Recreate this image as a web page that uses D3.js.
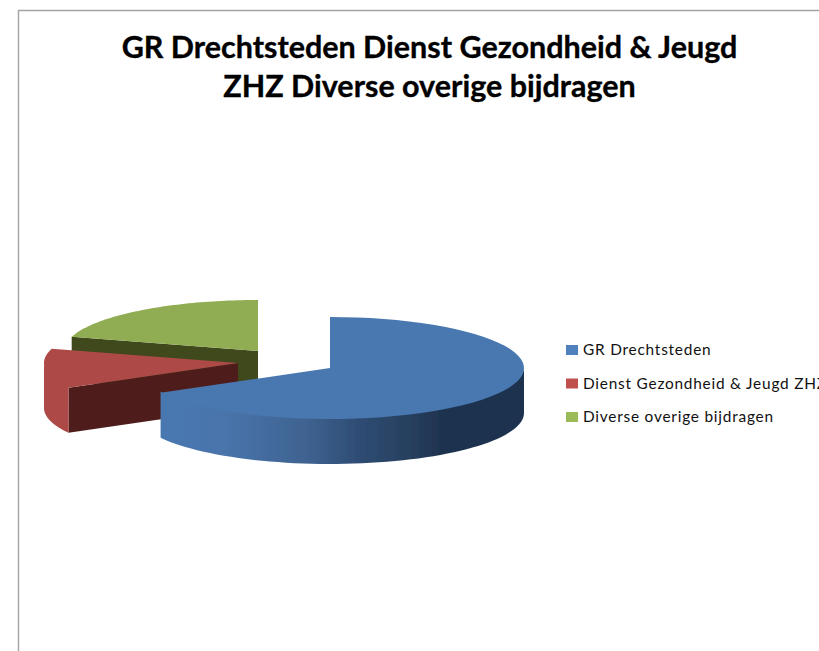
<!DOCTYPE html>
<html><head><meta charset="utf-8">
<script src="https://cdn.jsdelivr.net/npm/d3@7/dist/d3.min.js"></script>
<style>html,body{margin:0;padding:0;background:#fff;overflow:hidden}svg{display:block}</style>
</head><body><svg id="c" width="819" height="651"></svg>
<script>
const titleLines = ["GR Drechtsteden Dienst Gezondheid & Jeugd", "ZHZ Diverse overige bijdragen"];
const categories = ["GR Drechtsteden", "Dienst Gezondheid & Jeugd ZHZ", "Diverse overige bijdragen"];
const values = [66.9, 12.6, 20.5];
const legendColors = ["#4f81bd", "#c0504d", "#9bbb59"];
const topColors = ["#4978b1", "#ad4a46", "#91ad53"];
const wallColors = ["#4978b1", "#ad4a46", "#91ad53"];
const radialColors = ["#1f3350", "#4f1f1c", "#3f4a1e"];

const svg = d3.select("#c");
const rx = 194, ry = 51, depth = 45;
const centers = [[330, 368], [238, 363], [258, 351]];

// frame
svg.append("path").attr("d", "M18.5,651V10.5H819").attr("fill", "none").attr("stroke", "#a3a3a3").attr("stroke-width", 1.4);

// title
svg.append("g").selectAll("text").data(titleLines).join("text")
  .attr("x", 429.5).attr("y", (d, i) => 58 + i * 39)
  .attr("text-anchor", "middle")
  .attr("font-family", "Lato, 'Open Sans', sans-serif")
  .attr("font-weight", 700).attr("font-size", 30.5)
  .attr("stroke", "#000").attr("stroke-width", 0.35).attr("fill", "#000").text(d => d);

const pie = d3.pie().sort(null).value(d => d)(values);
const defs = svg.append("defs");
defs.append("filter").attr("id", "soft").append("feGaussianBlur").attr("stdDeviation", 0.5);
const grad = defs.append("linearGradient").attr("id", "blueWall")
  .attr("gradientUnits", "userSpaceOnUse").attr("x1", 160).attr("x2", 524).attr("y1", 0).attr("y2", 0);
[[0, "#4978b1"], [0.18, "#4874ab"], [0.40, "#3f6391"], [0.54, "#2f4d75"], [0.68, "#27405f"], [0.77, "#1f3350"], [1, "#1f3350"]]
  .forEach(s => grad.append("stop").attr("offset", s[0]).attr("stop-color", s[1]));

const pt = (c, a, dz = 0) => [c[0] + rx * Math.sin(a), c[1] - ry * Math.cos(a) + dz];
const line = d3.line();
const arcPts = (c, a0, a1, dz) => d3.range(0, 61).map(i => pt(c, a0 + (a1 - a0) * i / 60, dz));
const pieG = svg.append("g").attr("filter", "url(#soft)");

// draw back to front: green, red, blue
[2, 1, 0].forEach(i => {
  const s = pie[i], c = centers[i], g = pieG.append("g");
  const a0 = s.startAngle, a1 = s.endAngle;
  // radial wall that faces the viewer
  if (i > 0) {
    const p = pt(c, a0);
    g.append("path").attr("fill", radialColors[i]).attr("d",
      line([c, p, [p[0], p[1] + depth], [c[0], c[1] + depth]]) + "Z");
  }
  // outer curved wall (front half only), tucked 1px under the top face
  const w0 = Math.max(a0, Math.PI / 2), w1 = Math.min(a1, 3 * Math.PI / 2);
  if (w1 > w0) {
    const pts = arcPts(c, w0, w1, -1).concat(arcPts(c, w1, w0, depth));
    g.append("path").attr("fill", i === 0 ? "url(#blueWall)" : wallColors[i]).attr("d", line(pts) + "Z");
  }
  // top face
  g.append("path").attr("fill", topColors[i])
    .attr("d", line([c].concat(arcPts(c, a0, a1, 0))) + "Z");
});

// legend
const yLegend = d3.scalePoint().domain(categories).range([350, 417]);
const lg = svg.append("g").selectAll("g").data(categories).join("g")
  .attr("transform", d => `translate(566,${yLegend(d)})`);
lg.append("rect").attr("x", 0).attr("y", -5).attr("width", 12).attr("height", 10)
  .attr("fill", (d, i) => legendColors[i]);
lg.append("text").attr("x", 17).attr("y", 5)
  .attr("font-family", "Lato, 'Open Sans', sans-serif").attr("font-size", 15.4)
  .attr("letter-spacing", 0.78).attr("fill", "#111").text(d => d);
</script></body></html>
